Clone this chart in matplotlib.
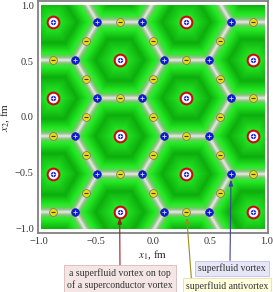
import numpy as np
import matplotlib
matplotlib.use("Agg")
import matplotlib.pyplot as plt
from matplotlib.colors import LinearSegmentedColormap

plt.rcParams['font.family'] = ['Liberation Serif', 'DejaVu Serif']
plt.rcParams['mathtext.fontset'] = 'stix'

# superconductor vortices (with a superfluid vortex on top), fm
red_x = [-0.8775, -0.8775, -0.8775, 0.2925, 0.2925, 0.2925,
         -0.2925, -0.2925, -0.2925, 0.8775, 0.8775, 0.8775]
red_y = [0.85, 0.17, -0.51, 0.85, 0.17, -0.51,
         0.51, -0.17, -0.85, 0.51, -0.17, -0.85]

# cells just outside the window (only shape the background)
ghost_x = [-1.4625, -1.4625, -1.4625, -1.4625, -0.8775, -0.8775,
           -0.2925, -0.2925, 0.2925, 0.2925, 0.8775, 0.8775,
           1.4625, 1.4625, 1.4625, 1.4625]
ghost_y = [1.19, 0.51, -0.17, -0.85, 1.53, -1.19,
           1.19, -1.53, 1.53, -1.19, 1.19, -1.53,
           0.85, 0.17, -0.51, -1.19]

# superfluid vortices (cell corners)
blue_x = [-0.49, -0.10, 0.685, -0.49, -0.10, 0.685, -0.49, -0.10, 0.685,
          -0.685, 0.10, 0.49, -0.685, 0.10, 0.49, -0.685, 0.10, 0.49]
blue_y = [0.85, 0.85, 0.85, 0.17, 0.17, 0.17, -0.51, -0.51, -0.51,
          0.51, 0.51, 0.51, -0.17, -0.17, -0.17, -0.85, -0.85, -0.85]

# superfluid antivortices (cell edge midpoints)
yel_x = [-0.8775, 0.2925, -0.8775, 0.2925, -0.8775, 0.2925,
         -0.2925, 0.8775, -0.2925, 0.8775, -0.2925, 0.8775,
         -0.585, -0.585, -0.585, -0.585, -0.585,
         0.0, 0.0, 0.0, 0.0, 0.0,
         0.585, 0.585, 0.585, 0.585, 0.585]
yel_y = [0.51, 0.51, -0.17, -0.17, -0.85, -0.85,
         0.85, 0.85, 0.17, 0.17, -0.51, -0.51,
         0.68, 0.34, 0.0, -0.34, -0.68,
         0.68, 0.34, 0.0, -0.34, -0.68,
         0.68, 0.34, 0.0, -0.34, -0.68]

inradius = 0.34

# background: distance to the nearest cell boundary
cx = np.array(red_x + ghost_x)
cy = np.array(red_y + ghost_y)
gx, gy = np.meshgrid(np.linspace(-0.98, 0.98, 392), np.linspace(-1, 1, 400))
d2 = (gx[..., None] - cx) ** 2 + (gy[..., None] - cy) ** 2
i1 = d2.argmin(-1)
d1 = d2.min(-1)
sep = np.sqrt((cx[i1][..., None] - cx) ** 2 + (cy[i1][..., None] - cy) ** 2)
safe = np.where(sep > 1e-6, sep, 1.0)
bd = np.where(sep > 1e-6, (d2 - d1[..., None]) / (2 * safe), np.inf).min(-1)
t = np.clip(bd / inradius, 0, 1)

cmap = LinearSegmentedColormap.from_list("cells", [
    (0.0, (0.90, 0.93, 0.88)),
    (0.03, (0.76, 0.83, 0.73)),
    (0.07, (0.56, 0.76, 0.52)),
    (0.12, (0.30, 0.86, 0.28)),
    (0.20, (0.14, 0.92, 0.14)),
    (0.45, (0.05, 0.68, 0.05)),
    (0.75, (0.12, 0.85, 0.12)),
    (1.0, (0.22, 0.93, 0.22)),
])

fig = plt.figure(figsize=(2.73, 2.92), dpi=100)
ax = fig.add_axes([38 / 273, 59 / 292, 230 / 273, 232 / 292])
ax.imshow(t, cmap=cmap, vmin=0, vmax=1, origin='lower',
          extent=[-0.98, 0.98, -1, 1], interpolation='bilinear', aspect='auto')

ax.plot(red_x, red_y, 'o', ms=8.4, mfc='white', mec=(0.78, 0.05, 0.05), mew=1.5)
ax.plot(red_x, red_y, 'o', ms=3.8, mfc=(0.1, 0.15, 0.9), mec='none')
ax.plot(red_x, red_y, '+', ms=2.2, mec='white', mew=0.6)
ax.plot(blue_x, blue_y, 'o', ms=5.6, mfc=(0.05, 0.1, 0.85), mec=(0.1, 0.1, 0.5), mew=0.4)
ax.plot(blue_x, blue_y, '+', ms=2.4, mec=(0.8, 0.85, 1.0), mew=0.6)
ax.plot(yel_x, yel_y, 'o', ms=5.6, mfc=(0.9, 0.85, 0.1), mec=(0.45, 0.45, 0.3), mew=0.5)
ax.plot(yel_x, yel_y, '_', ms=3.0, mec=(0.25, 0.25, 0.1), mew=0.8)

ax.set_xlim(-1.009, 1.009)
ax.set_ylim(-1.036, 1.036)
ax.set_xticks([-1.0, -0.5, 0.0, 0.5, 1.0])
ax.set_yticks([-1.0, -0.5, 0.0, 0.5, 1.0])
ax.set_xticklabels(['\u22121.0', '\u22120.5', '0.0', '0.5', '1.0'])
ax.set_yticklabels(['\u22121.0', '\u22120.5', '0.0', '0.5', '1.0'])
ax.tick_params(length=0, labelsize=7.5, colors=(0.2, 0.2, 0.2), pad=3)
for s in ax.spines.values():
    s.set_color((0.5, 0.5, 0.5))
    s.set_linewidth(1.3)
ax.set_xlabel(r'$x_1$, fm', fontsize=8, color=(0.15, 0.15, 0.15), labelpad=2)
ax.set_ylabel(r'$x_2$, fm', fontsize=8, color=(0.15, 0.15, 0.15), labelpad=2)

notes = [
    ("a superfluid vortex on top\nof a superconductor vortex", (-0.2925, -0.85),
     (120, 13), (0.5, 1.0), (0.96, 0.90, 0.90), (0.85, 0.72, 0.72), (0.6, 0.12, 0.12)),
    ("superfluid antivortex", (0.2925, -0.85),
     (227, 6), (0.07, 1.0), (1.0, 1.0, 0.88), (0.88, 0.88, 0.7), (0.6, 0.55, 0.12)),
    ("superfluid vortex", (0.685, -0.51),
     (232, 23.5), (0.47, 1.0), (0.90, 0.90, 0.97), (0.75, 0.75, 0.9), (0.25, 0.25, 0.6)),
]
for txt, xy, pos, rel, fc, ec, ac in notes:
    ax.annotate(txt, xy=xy, xycoords='data', xytext=pos, textcoords='figure pixels',
                ha='center', va='center', fontsize=7, color=(0.2, 0.2, 0.2),
                linespacing=1.25, annotation_clip=False,
                bbox=dict(boxstyle='square,pad=0.3', fc=fc, ec=ec, lw=0.6),
                arrowprops=dict(arrowstyle='-|>,head_length=0.5,head_width=0.18',
                                color=ac, lw=0.8, relpos=rel, shrinkA=0, shrinkB=4))

fig.savefig('out.png', dpi=100)
